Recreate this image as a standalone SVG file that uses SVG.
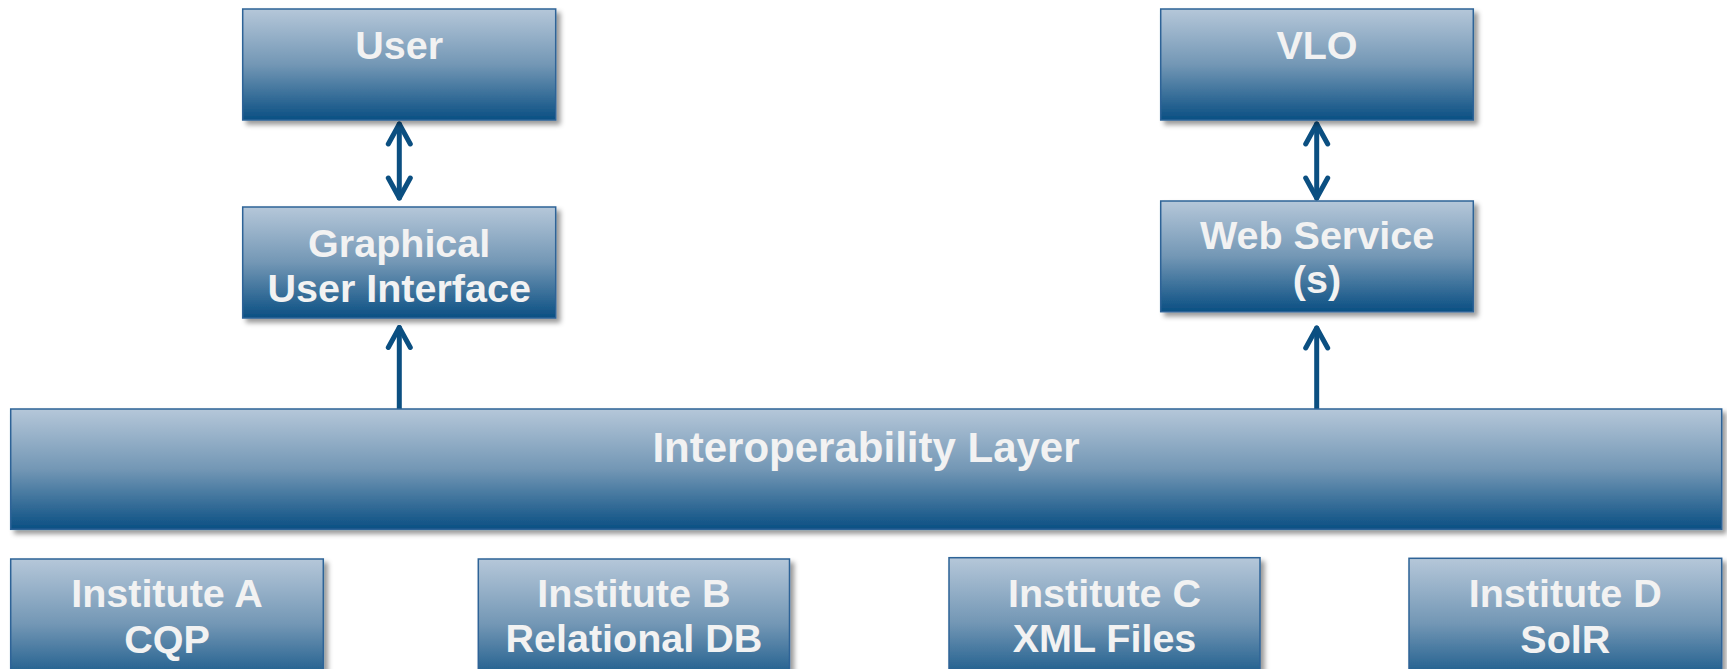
<svg xmlns="http://www.w3.org/2000/svg" width="1727" height="669" viewBox="0 0 1727 669">
<defs>
<linearGradient id="boxGrad" x1="0" y1="0" x2="0" y2="1">
<stop offset="0" stop-color="#b5c7d9"/>
<stop offset="0.5" stop-color="#7397b5"/>
<stop offset="1" stop-color="#0a4f83"/>
</linearGradient>
<filter id="shadow" x="-5%" y="-10%" width="115%" height="130%">
<feDropShadow dx="4" dy="4" stdDeviation="2.5" flood-color="#000" flood-opacity="0.4"/>
</filter>
<marker id="chev" markerUnits="userSpaceOnUse" viewBox="-24 -14 28 28" refX="0" refY="0" markerWidth="28" markerHeight="28" orient="auto-start-reverse">
<path d="M -20 -11 L 0 0 L -20 11" fill="none" stroke="#0b4f81" stroke-width="5" stroke-linecap="round" stroke-linejoin="round"/>
</marker>
</defs>
<style>
.box{fill:url(#boxGrad);stroke:#2e6397;stroke-width:1.5;filter:url(#shadow);}
.lbl{font-family:"Liberation Sans",Arial,sans-serif;font-weight:bold;font-size:39.5px;fill:#f2f2f2;text-anchor:middle;}
.big{font-size:42px;}
.conn{stroke:#0b4f81;stroke-width:5;fill:none;stroke-linecap:round;}
</style>
<rect width="1727" height="669" fill="#ffffff"/>
<g id="connectors">
<line class="conn" x1="399.3" y1="124" x2="399.3" y2="198" marker-start="url(#chev)" marker-end="url(#chev)"/>
<line class="conn" x1="399.3" y1="409" x2="399.3" y2="327.5" marker-end="url(#chev)"/>
<line class="conn" x1="1316.7" y1="124" x2="1316.7" y2="198" marker-start="url(#chev)" marker-end="url(#chev)"/>
<line class="conn" x1="1316.7" y1="409" x2="1316.7" y2="328" marker-end="url(#chev)"/>
</g>
<g id="user">
<rect class="box" x="242.7" y="9" width="313" height="111"/>
<text class="lbl" x="399.2" y="59.3">User</text>
</g>
<g id="gui">
<rect class="box" x="242.7" y="207" width="313" height="111"/>
<text class="lbl" x="399.2" y="256.7">Graphical</text>
<text class="lbl" x="399.2" y="301.7">User Interface</text>
</g>
<g id="vlo">
<rect class="box" x="1160.7" y="9" width="312.6" height="111"/>
<text class="lbl" x="1317" y="59.3">VLO</text>
</g>
<g id="webservice">
<rect class="box" x="1160.7" y="201" width="312.6" height="110.7"/>
<text class="lbl" x="1317" y="249.3">Web Service</text>
<text class="lbl" x="1317" y="293.3">(s)</text>
</g>
<g id="interop">
<rect class="box" x="10.7" y="409" width="1711" height="120.3"/>
<text class="lbl big" x="866" y="461.7">Interoperability Layer</text>
</g>
<g id="instA">
<rect class="box" x="10.7" y="559" width="312.6" height="130"/>
<text class="lbl" x="167" y="607">Institute A</text>
<text class="lbl" x="167" y="653">CQP</text>
</g>
<g id="instB">
<rect class="box" x="478.3" y="559" width="311.2" height="130"/>
<text class="lbl" x="633.9" y="607">Institute B</text>
<text class="lbl" x="633.9" y="652">Relational DB</text>
</g>
<g id="instC">
<rect class="box" x="949" y="557.7" width="311" height="130"/>
<text class="lbl" x="1104.5" y="607">Institute C</text>
<text class="lbl" x="1104.5" y="652">XML Files</text>
</g>
<g id="instD">
<rect class="box" x="1409" y="558.3" width="312.7" height="130"/>
<text class="lbl" x="1565.3" y="607">Institute D</text>
<text class="lbl" x="1565.3" y="653">SolR</text>
</g>
</svg>
